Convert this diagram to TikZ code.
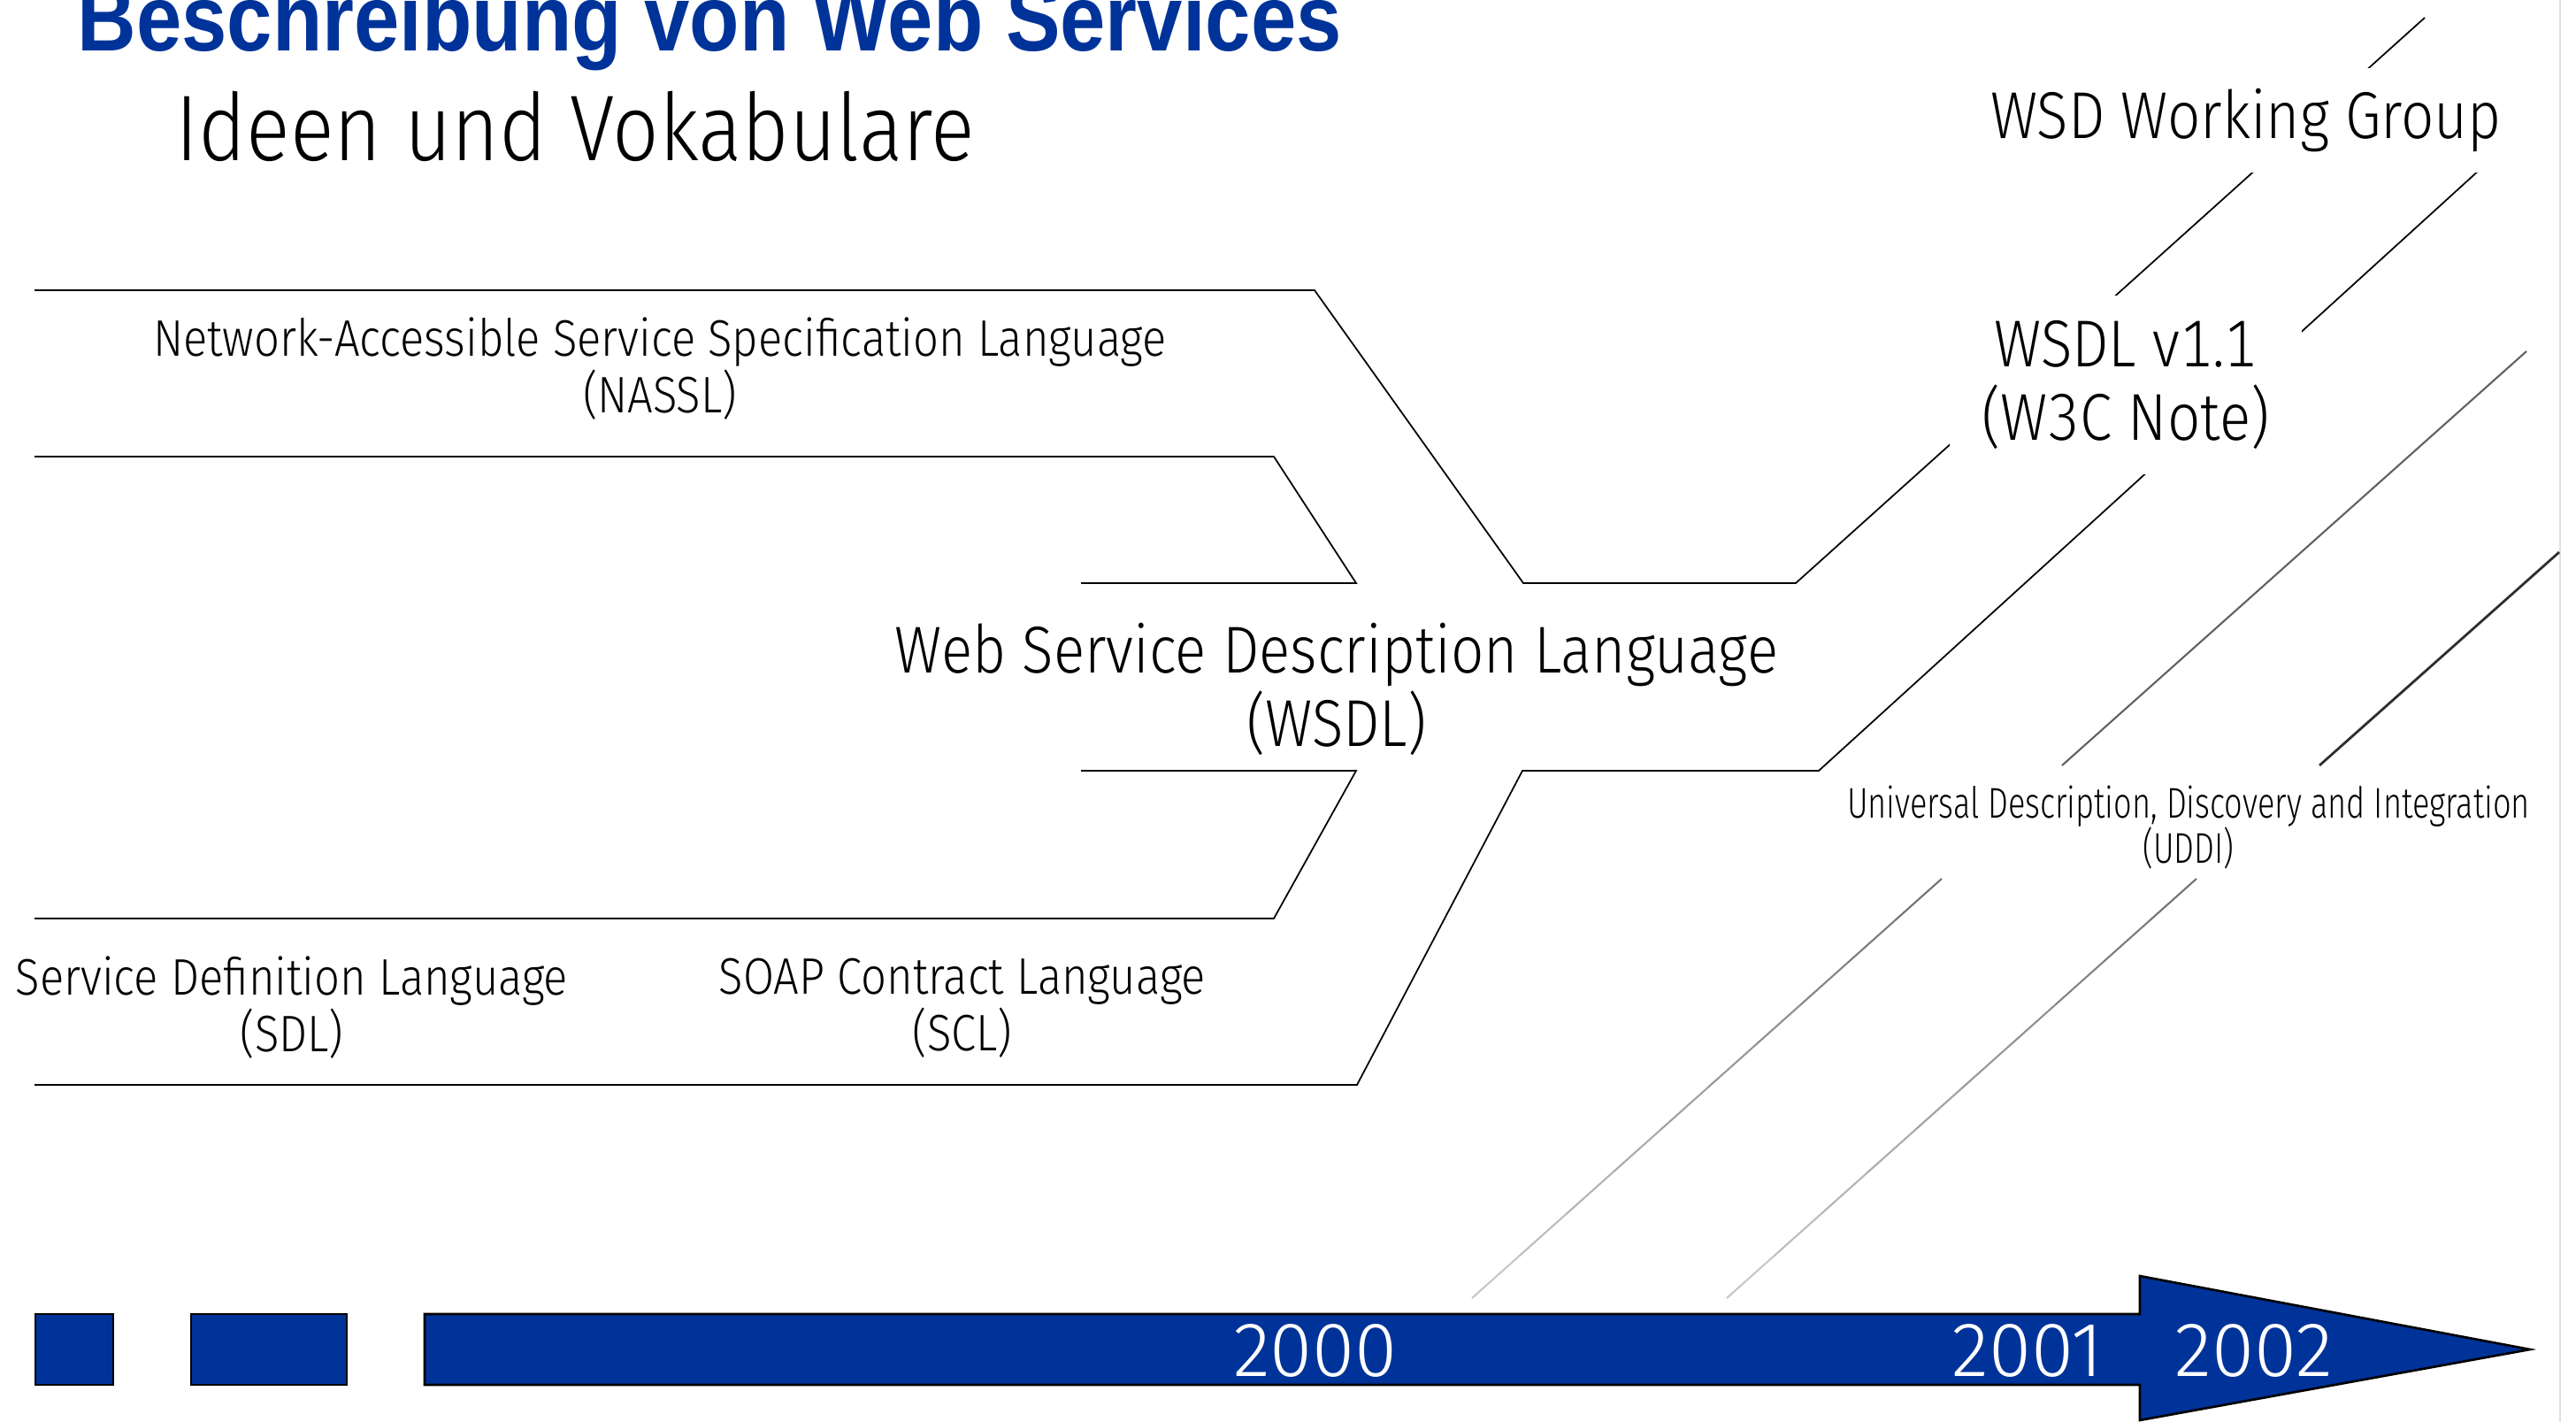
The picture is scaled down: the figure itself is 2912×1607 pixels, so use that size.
\documentclass[tikz,border=0pt]{standalone}
\usepackage{fontspec}
\setmainfont{Fira Sans Light}[FakeStretch=0.875,Numbers=Monospaced]
\newfontfamily\titlefont{Liberation Sans}[FakeStretch=0.87]
\newfontfamily\uddifont{Fira Sans Light}[FakeStretch=0.745]
\newfontfamily\yearfont{Fira Sans Light}
\usetikzlibrary{calc}
\definecolor{wsblue}{HTML}{003399}

\tikzset{
  track/.style={draw=black,line width=0.5pt},
  mask/.style={fill=white},
  biglabel/.style={font=\fontsize{21.3}{23.6}\selectfont,align=center,inner sep=0pt},
  smalllabel/.style={font=\fontsize{16.5}{18.2}\selectfont,align=center,inner sep=0pt},
  bar/.style={fill=wsblue,draw=black,line width=0.75pt},
  year/.style={font=\yearfont\fontsize{24.8}{28}\selectfont,text=white,anchor=base,inner sep=0pt}
}

\begin{document}
\begin{tikzpicture}[x=0.01cm,y=-0.01cm]
\useasboundingbox (0,0) rectangle (2912,1607);
\clip (0,0) rectangle (2912,1607);
% slide edge
\draw[black!12,line width=0.6pt] (2894,0) -- (2894,1607);
% tracks
\coordinate (a0) at (39,328);
\coordinate (a1) at (1486,328);
\coordinate (a2) at (1722,659);
\coordinate (a3) at (2030,659);
\coordinate (a4) at (2741,20);
\coordinate (b0) at (39,516);
\coordinate (b1) at (1440,516);
\coordinate (b2) at (1533,659);
\coordinate (b3) at (1222,659);
\coordinate (c0) at (1222,871);
\coordinate (c1) at (1533,871);
\coordinate (c2) at (1440,1038);
\coordinate (c3) at (39,1038);
\coordinate (d0) at (39,1226);
\coordinate (d1) at (1534,1226);
\coordinate (d2) at (1721,871);
\coordinate (d3) at (2056,871);
\coordinate (d4) at (2871,130);
\draw[track] (a0) -- (a1) -- (a2) -- (a3) -- (a4);
\draw[track] (b0) -- (b1) -- (b2) -- (b3);
\draw[track] (c0) -- (c1) -- (c2) -- (c3);
\draw[track] (d0) -- (d1) -- (d2) -- (d3) -- (d4);
% uddi tracks
\coordinate (g1a) at (2856,397);
\coordinate (g1b) at (2331,865);
\coordinate (g2a) at (2893,624);
\coordinate (g2b) at (2622,865);
\coordinate (g3a) at (2195,993);
\coordinate (g3b) at (1664,1467);
\coordinate (g4a) at (2483,993);
\coordinate (g4b) at (1952,1467);
\draw[black!62,line width=0.6pt] (g1a) -- (g1b);
\draw[black!82,line width=0.8pt] (g2a) -- (g2b);
\foreach \from/\to in {g3a/g3b,g4a/g4b} {
  \foreach \k in {0,...,9} {
    \pgfmathsetmacro\ta{\k/10}
    \pgfmathsetmacro\tb{(\k+1)/10}
    \pgfmathsetmacro\shade{55-33*\k/9}
    \draw[black!\shade,line width=0.6pt] ($(\from)!\ta!(\to)$) -- ($(\from)!\tb!(\to)$);
  }
}
% titles
\node[anchor=base west,inner sep=0pt,text=wsblue,font=\titlefont\bfseries\fontsize{30.16}{36}\selectfont] (title) at (87,58) {Beschreibung von Web Services};
\node[anchor=base west,inner sep=0pt,font=\fontsize{30}{36}\selectfont] (subtitle) at (198,182) {Ideen und Vokabulare};
% labels
\node[smalllabel] (nassl) at (746,417) {Network-Accessible Service Specification Language\\(NASSL)};
\node[biglabel] (wsdl) at (1511,779) {Web Service Description Language\\(WSDL)};
\node[smalllabel] (sdl) at (330,1139) {Service Definition Language\\(SDL)};
\node[smalllabel] (scl) at (1088,1139) {SOAP Contract Language\\(SCL)};
\node[biglabel,mask,minimum width=3.97cm,minimum height=2.02cm] (note) at (2403,435) {WSDL v1.1\\(W3C Note)};
\node[biglabel,mask,minimum width=6.8cm,minimum height=1.17cm] (wsdwg) at (2539,136) {WSD Working Group};
\node[font=\uddifont\fontsize{13.8}{14.5}\selectfont,align=center,inner sep=0pt] (uddi) at (2474,935) {Universal Description, Discovery and Integration\\(UDDI)};
% time line
\draw[bar] (40,1485) rectangle (128,1565);
\draw[bar] (216,1485) rectangle (392,1565);
\draw[bar] (480,1485) -- (2419,1485) -- (2419,1442) -- (2860,1525) -- (2419,1605) -- (2419,1565) -- (480,1565) -- cycle;
\node[year] (y2000) at (1487,1555) {2000};
\node[year] (y2001) at (2292,1555) {2001};
\node[year] (y2002) at (2548,1555) {2002};
\end{tikzpicture}
\end{document}
